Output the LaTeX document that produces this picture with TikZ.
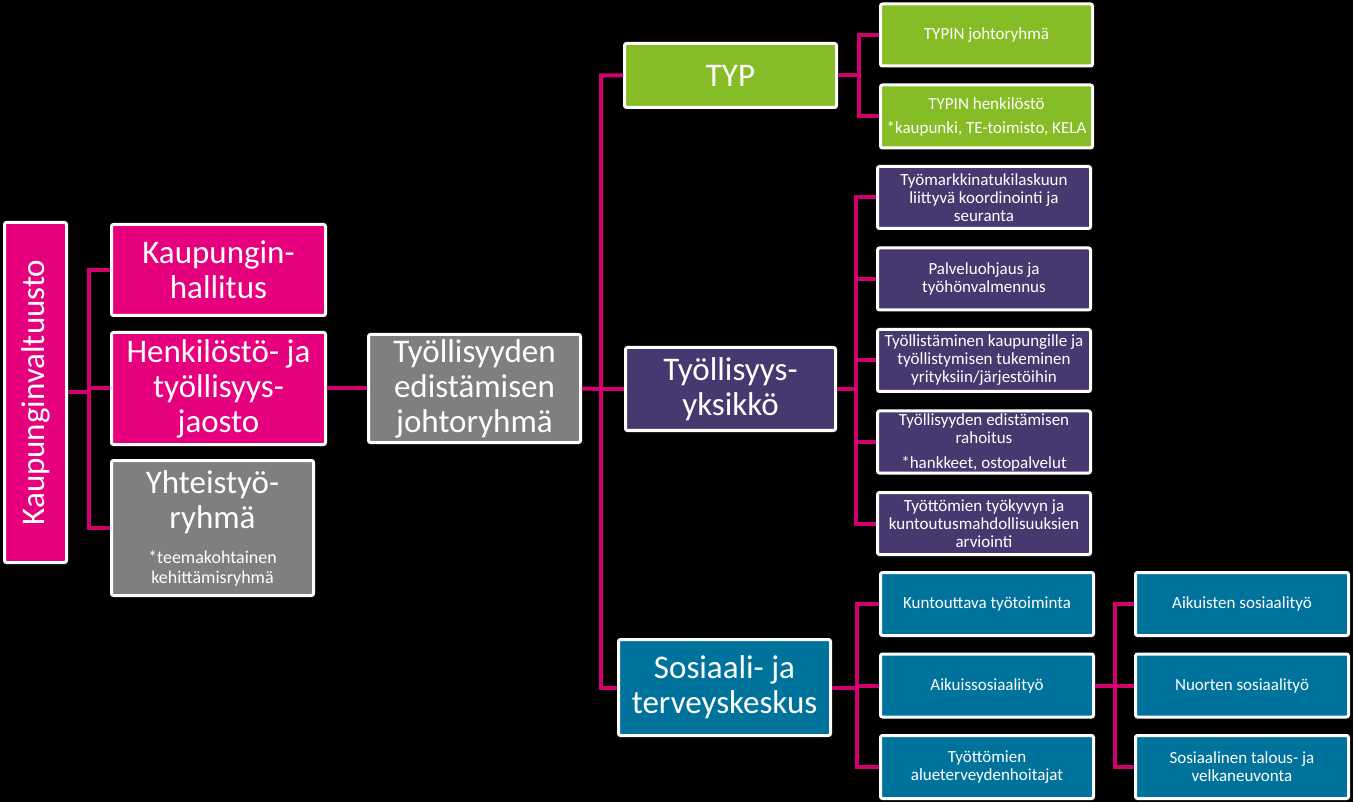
\documentclass[tikz,border=0pt]{standalone}
\usepackage{fontspec}
\setmainfont{Carlito}
\usepackage{tikz}
\usetikzlibrary{positioning}
\definecolor{pinkfill}{HTML}{E6007E}
\definecolor{linkpink}{HTML}{D0006F}
\definecolor{grayfill}{HTML}{7F7F7F}
\definecolor{greenfill}{HTML}{86BC25}
\definecolor{purplefill}{HTML}{483870}
\definecolor{bluefill}{HTML}{00739C}
\newcommand{\isoteksti}{\fontsize{33}{35}\selectfont}
\newcommand{\pieniteksti}{\fontsize{17}{18}\selectfont}
\tikzstyle{orgbox} = [
  rectangle, rounded corners=2pt, draw=white, line width=3pt,
  outer sep=1.5pt, inner sep=2pt, align=center, text=white
]
\tikzstyle{bigbox} = [orgbox, font=\isoteksti]
\tikzstyle{greenbox} = [orgbox, fill=greenfill, font=\pieniteksti,
  minimum width=212pt, minimum height=63pt]
\tikzstyle{purplebox} = [orgbox, fill=purplefill, font=\pieniteksti,
  minimum width=213pt, minimum height=62pt]
\tikzstyle{bluebox} = [orgbox, fill=bluefill, font=\pieniteksti,
  minimum width=213pt, minimum height=63pt]
\tikzstyle{link} = [draw=linkpink, line width=4pt]

\begin{document}
\begin{tikzpicture}[x=1pt, y=-1pt]

  \fill[black] (0,0) rectangle (1353,802);
  \useasboundingbox (0,0) rectangle (1353,802);

  % -- Kaupunki ---------------------------------------------
  \node[bigbox, fill=pinkfill, rotate=90, minimum width=340pt, minimum height=62pt]
    (valt) at (35.5,392.5) {Kaupunginvaltuusto};
  \node[bigbox, fill=pinkfill, minimum width=214pt, minimum height=91pt]
    (hall) at (218.5,270) {Kaupungin-\\hallitus};
  \node[bigbox, fill=pinkfill, minimum width=214pt, minimum height=112pt]
    (jaos) at (218.5,388.5) {Henkilöstö- ja\\työllisyys-\\jaosto};
  \node[bigbox, fill=grayfill, minimum width=202pt, minimum height=135pt]
    (yht) at (212.5,528) {Yhteistyö-\\ryhmä\\[0pt]
      \fontsize{18}{20}\selectfont *teemakohtainen\\[-15pt]
      \fontsize{18}{20}\selectfont kehittämisryhmä};

  % -- Johtoryhmä -------------------------------------------
  \node[bigbox, fill=grayfill, minimum width=212pt, minimum height=108pt]
    (tejo) at (474.5,388.5) {Työllisyyden\\edistämisen\\johtoryhmä};

  % -- Yksiköt ----------------------------------------------
  \node[bigbox, fill=greenfill, minimum width=212pt, minimum height=64pt]
    (typ) at (730.5,75.5) {TYP};
  \node[bigbox, fill=purplefill, minimum width=210pt, minimum height=83pt]
    (yks) at (730.5,389) {Työllisyys-\\yksikkö};
  \node[bigbox, fill=bluefill, minimum width=212pt, minimum height=96pt]
    (sote) at (724.5,687.5) {Sosiaali- ja\\terveyskeskus};

  % -- TYP --------------------------------------------------
  \node[greenbox, minimum height=62pt] (typjohto) at (986.5,35) {TYPIN johtoryhmä};
  \node[greenbox, below=16pt of typjohto]
    (typhenk) {TYPIN henkilöstö\\[6pt]*kaupunki, TE-toimisto, KELA};

  % -- Työllisyysyksikkö ------------------------------------
  \node[purplebox] (tmtuki) at (984,197.5)
    {Työmarkkinatukilaskuun\\liittyvä koordinointi ja\\seuranta};
  \node[purplebox, below=16.5pt of tmtuki] (palvelu)
    {Palveluohjaus ja\\työhönvalmennus};
  \node[purplebox, below=16.5pt of palvelu] (tyollist)
    {Työllistäminen kaupungille ja\\työllistymisen tukeminen\\yrityksiin/järjestöihin};
  \node[purplebox, below=16.5pt of tyollist] (rahoitus)
    {Työllisyyden edistämisen\\rahoitus\\[7pt]*hankkeet, ostopalvelut};
  \node[purplebox, below=16.5pt of rahoitus] (arviointi)
    {Työttömien työkyvyn ja\\kuntoutusmahdollisuuksien\\arviointi};

  % -- Sosiaali- ja terveyskeskus ---------------------------
  \node[bluebox] (kuntout) at (987,604) {Kuntouttava työtoiminta};
  \node[bluebox, below=15.5pt of kuntout] (aikso) {Aikuissosiaalityö};
  \node[bluebox, below=15.5pt of aikso] (terv) {Työttömien\\alueterveydenhoitajat};
  \node[bluebox, right=39pt of kuntout] (aikus) {Aikuisten sosiaalityö};
  \node[bluebox, right=39pt of aikso] (nuoret) {Nuorten sosiaalityö};
  \node[bluebox, right=39pt of terv] (velka) {Sosiaalinen talous- ja\\velkaneuvonta};

  % -- Yhteydet ---------------------------------------------
  \coordinate (haaraL) at (89,392.5);
  \coordinate (haaraK) at (601,389);
  \coordinate (haaraT) at (859,75.5);
  \coordinate (haaraY) at (856,389);
  \coordinate (haaraS) at (857,687.5);
  \coordinate (haaraA) at (1115,685.5);

  \draw[link] (valt) -- (haaraL) |- (hall.west);
  \draw[link] (haaraL) |- (jaos.west);
  \draw[link] (haaraL) |- (yht.west);
  \draw[link] (jaos.east) -- (tejo.west);
  \draw[link] (tejo.east) -- (haaraK) |- (typ.west);
  \draw[link] (haaraK) |- (yks.west);
  \draw[link] (haaraK) |- (sote.west);
  \draw[link] (typ.east) -- (haaraT) |- (typjohto.west);
  \draw[link] (haaraT) |- (typhenk.west);
  \draw[link] (yks.east) -- (haaraY) |- (tmtuki.west);
  \draw[link] (haaraY) |- (palvelu.west);
  \draw[link] (haaraY) |- (tyollist.west);
  \draw[link] (haaraY) |- (rahoitus.west);
  \draw[link] (haaraY) |- (arviointi.west);
  \draw[link] (sote.east) -- (haaraS) |- (kuntout.west);
  \draw[link] (haaraS) |- (aikso.west);
  \draw[link] (haaraS) |- (terv.west);
  \draw[link] (aikso.east) -- (haaraA) |- (aikus.west);
  \draw[link] (haaraA) |- (nuoret.west);
  \draw[link] (haaraA) |- (velka.west);

\end{tikzpicture}
\end{document}
